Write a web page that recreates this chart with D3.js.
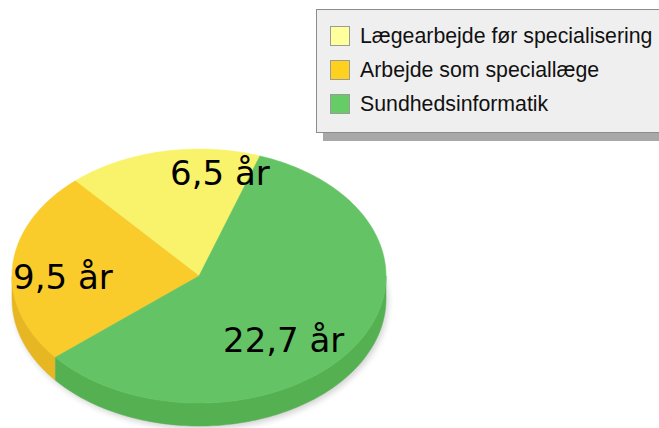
<!DOCTYPE html>
<html>
<head>
<meta charset="utf-8">
<script src="https://cdn.jsdelivr.net/npm/d3@7"></script>
<style>
  body { margin: 0; background: #fff; }
  svg { display: block; }
</style>
</head>
<body>
<script>
// data
var categories = ["Lægearbejde før specialisering", "Arbejde som speciallæge", "Sundhedsinformatik"];
var years = [6.5, 9.5, 22.7];
var valueLabels = ["6,5 år", "9,5 år", "22,7 år"];
var topColors = ["#f9f36b", "#f9cb2b", "#64c465"];
var sideColors = ["#e2dc55", "#e6b722", "#55b052"];
var legendColors = ["#ffff9c", "#ffd11f", "#66cc66"];

var width = 659,
    height = 428;

// pie geometry (flattened ellipse + rim depth)
var cx = 199, cy = 276,
    rx = 187, ry = 127,
    depth = 23;

var rad = Math.PI / 180;
var start = 19 * rad; // yellow slice starts here and runs counter clockwise

// where the value labels sit, relative to the pie centre
var labelOffset = [[-29, -91], [-186, 13], [24, 76]];

var svg = d3.select("body").append("svg")
    .attr("width", width)
    .attr("height", height);

var defs = svg.append("defs");
defs.append("filter").attr("id", "blur")
    .attr("x", "-20%").attr("y", "-20%").attr("width", "140%").attr("height", "140%")
    .append("feGaussianBlur").attr("stdDeviation", 3);

var pie = d3.pie()
    .sort(null)
    .startAngle(start)
    .endAngle(start - 2 * Math.PI);

var slices = pie(years);

// point on the ellipse, angle clockwise from top
function pt(a, dy) {
    return [cx + rx * Math.sin(a), cy - ry * Math.cos(a) + (dy || 0)];
}

function arcPoints(a0, a1, dy) {
    var n = Math.max(2, Math.ceil(Math.abs(a1 - a0) / (1 * rad)));
    return d3.range(n + 1).map(function (i) {
        return pt(a0 + (a1 - a0) * i / n, dy);
    });
}

var line = d3.line();

// soft shadow under the pie
svg.append("ellipse")
    .attr("cx", cx + 2)
    .attr("cy", cy + depth + 3)
    .attr("rx", rx)
    .attr("ry", ry)
    .attr("fill", "#000")
    .attr("opacity", 0.18)
    .attr("filter", "url(#blur)");

// rim, only the front half (angles between 90 and 270 deg) is visible
var sides = [];
slices.forEach(function (s, i) {
    var lo = Math.min(s.startAngle, s.endAngle),
        hi = Math.max(s.startAngle, s.endAngle);
    [-1, 0, 1].forEach(function (k) {
        var a = Math.max(lo, (90 + 360 * k) * rad),
            b = Math.min(hi, (270 + 360 * k) * rad);
        if (b > a) sides.push({ i: i, a: a, b: b });
    });
});

svg.selectAll(".side")
    .data(sides)
    .enter().append("path")
    .attr("class", "side")
    .attr("d", function (d) {
        var topEdge = arcPoints(d.a, d.b, 0),
            bottomEdge = arcPoints(d.b, d.a, depth);
        return line(topEdge.concat(bottomEdge)) + "Z";
    })
    .attr("fill", function (d) { return sideColors[d.i]; })
    .attr("stroke", function (d) { return sideColors[d.i]; })
    .attr("stroke-width", 0.5);

// top faces
svg.selectAll(".slice")
    .data(slices)
    .enter().append("path")
    .attr("class", "slice")
    .attr("d", function (d) {
        return line([[cx, cy]].concat(arcPoints(d.startAngle, d.endAngle, 0))) + "Z";
    })
    .attr("fill", function (d, i) { return topColors[i]; })
    .attr("stroke", function (d, i) { return topColors[i]; })
    .attr("stroke-width", 0.5);

// value labels
svg.selectAll(".val")
    .data(slices)
    .enter().append("text")
    .attr("class", "val")
    .attr("x", function (d, i) { return cx + labelOffset[i][0]; })
    .attr("y", function (d, i) { return cy + labelOffset[i][1]; })
    .attr("font-family", "'DejaVu Sans', sans-serif")
    .attr("font-size", 34)
    .attr("fill", "#000")
    .text(function (d, i) { return valueLabels[i]; });

// legend box with drop shadow
var legend = svg.append("g").attr("transform", "translate(316,9)");

legend.append("rect")
    .attr("x", 7).attr("y", 9)
    .attr("width", 400).attr("height", 123)
    .attr("fill", "#a8a8a8");

legend.append("rect")
    .attr("x", 0.5).attr("y", 0.5)
    .attr("width", 400).attr("height", 123)
    .attr("fill", "#efefef")
    .attr("stroke", "#8c8c8c");

var item = legend.selectAll(".item")
    .data(categories)
    .enter().append("g")
    .attr("class", "item")
    .attr("transform", function (d, i) { return "translate(14," + (17 + i * 34) + ")"; });

item.append("rect")
    .attr("x", 0.5).attr("y", 0.5)
    .attr("width", 19).attr("height", 19)
    .attr("fill", function (d, i) { return legendColors[i]; })
    .attr("stroke", "#9a9a9a");

item.append("text")
    .attr("x", 30)
    .attr("y", 17)
    .attr("font-family", "'Liberation Sans', Arial, sans-serif")
    .attr("font-size", 21.3)
    .attr("fill", "#111")
    .text(function (d) { return d; });
</script>
</body>
</html>
